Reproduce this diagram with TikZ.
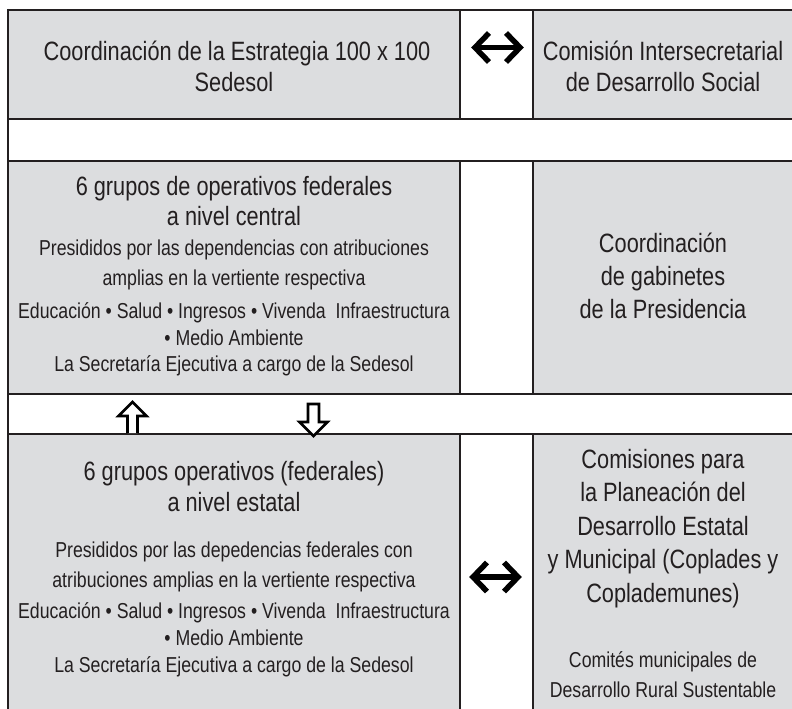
\documentclass[tikz,border=0pt]{standalone}
\usepackage{fontspec}
\setmainfont{Liberation Sans}[FakeStretch=0.82]
\definecolor{cellgray}{RGB}{220,221,223}
\definecolor{ink}{RGB}{35,31,32}
\tikzset{
  big/.style={anchor=base, inner sep=0pt, text=ink, font=\fontsize{26.5}{30}\selectfont},
  small/.style={anchor=base, inner sep=0pt, text=ink, font=\fontsize{21.6}{25}\selectfont},
  rule/.style={draw=ink, line width=2pt},
  thinrule/.style={draw=ink, line width=1.5pt},
  dblarrow/.style={draw=black, line width=5.5pt, miter limit=10},
  blockarrow/.style={draw=black, fill=white, line width=2.6pt, line join=miter}
}
\begin{document}
\begin{tikzpicture}[x=1pt,y=-1pt]
\useasboundingbox (0,0) rectangle (792,709);
% gray cells
\fill[cellgray] (8,10) rectangle (460,119);
\fill[cellgray] (533,10) rectangle (792,119);
\fill[cellgray] (8,161) rectangle (460,393);
\fill[cellgray] (533,161) rectangle (792,393);
\fill[cellgray] (8,433) rectangle (460,709);
\fill[cellgray] (533,433) rectangle (792,709);
% horizontal rules
\draw[rule] (8,10) -- (792,10);
\draw[rule] (8,119) -- (792,119);
\draw[rule] (8,161) -- (792,161);
\draw[rule] (8,393.5) -- (792,393.5);
\draw[rule] (8,433.5) -- (792,433.5);
% left border
\draw[rule] (8,9) -- (8,709);
% middle column verticals
\draw[rule, line width=2.6pt] (460,10) -- (460,119);
\draw[thinrule] (533,10) -- (533,119);
\draw[rule, line width=2.6pt] (460,161) -- (460,393.5);
\draw[thinrule] (533,161) -- (533,393.5);
\draw[rule, line width=2.6pt] (460,433.5) -- (460,709);
\draw[thinrule] (533,433.5) -- (533,709);

% row 1 texts
\node[big] (t1a) at (237,61) {Coordinación de la Estrategia 100 x 100};
\node[big] (t1b) at (234,92) {Sedesol};
\node[big] (t1c) at (663,61) {Comisión Intersecretarial};
\node[big] (t1d) at (663,92) {de Desarrollo Social};

% row 3 left
\node[big] (t3a) at (234,195) {6 grupos de operativos federales};
\node[big] (t3b) at (234,225) {a nivel central};
\node[small] (t3c) at (234,255) {Presididos por las dependencias con atribuciones};
\node[small] (t3d) at (234,285) {amplias en la vertiente respectiva};
\node[small] (t3e) at (234,318) {Educación • Salud • Ingresos • Vivenda\ \ Infraestructura};
\node[small] (t3f) at (234,345) {• Medio Ambiente};
\node[small] (t3g) at (234,371) {La Secretaría Ejecutiva a cargo de la Sedesol};
% row 3 right
\node[big] (t3h) at (663,252) {Coordinación};
\node[big] (t3i) at (663,285) {de gabinetes};
\node[big] (t3j) at (663,318) {de la Presidencia};

% row 5 left
\node[big] (t5a) at (234,480) {6 grupos operativos (federales)};
\node[big] (t5b) at (234,511) {a nivel estatal};
\node[small] (t5c) at (234,557) {Presididos por las depedencias federales con};
\node[small] (t5d) at (234,587) {atribuciones amplias en la vertiente respectiva};
\node[small] (t5e) at (234,618) {Educación • Salud • Ingresos • Vivenda\ \ Infraestructura};
\node[small] (t5f) at (234,645) {• Medio Ambiente};
\node[small] (t5g) at (234,672) {La Secretaría Ejecutiva a cargo de la Sedesol};
% row 5 right
\node[big] (t5h) at (663,468) {Comisiones para};
\node[big] (t5i) at (663,501.5) {la Planeación del};
\node[big] (t5j) at (663,535) {Desarrollo Estatal};
\node[big] (t5k) at (663,568.5) {y Municipal (Coplades y};
\node[big] (t5l) at (663,602) {Coplademunes)};
\node[small] (t5m) at (663,667) {Comités municipales de};
\node[small] (t5n) at (663,697) {Desarrollo Rural Sustentable};

% double arrows
\coordinate (a1l) at (475,47.5);
\coordinate (a1r) at (520,47.5);
\draw[dblarrow] (a1l) -- (a1r);
\draw[dblarrow] (489,33) -- (a1l) -- (489,62);
\draw[dblarrow] (506,33) -- (a1r) -- (506,62);

\coordinate (a2l) at (473,577);
\coordinate (a2r) at (518,577);
\draw[dblarrow] (a2l) -- (a2r);
\draw[dblarrow] (487,562.5) -- (a2l) -- (487,591.5);
\draw[dblarrow] (504,562.5) -- (a2r) -- (504,591.5);

% block arrows
\draw[blockarrow] (127.5,433) -- (127.5,416) -- (118.5,416) -- (132.5,402) -- (146.5,416) -- (137.5,416) -- (137.5,433);
\draw[blockarrow] (308,404) -- (308,422) -- (299.5,422) -- (313.5,436) -- (327.5,422) -- (319,422) -- (319,404) -- cycle;
\end{tikzpicture}
\end{document}
